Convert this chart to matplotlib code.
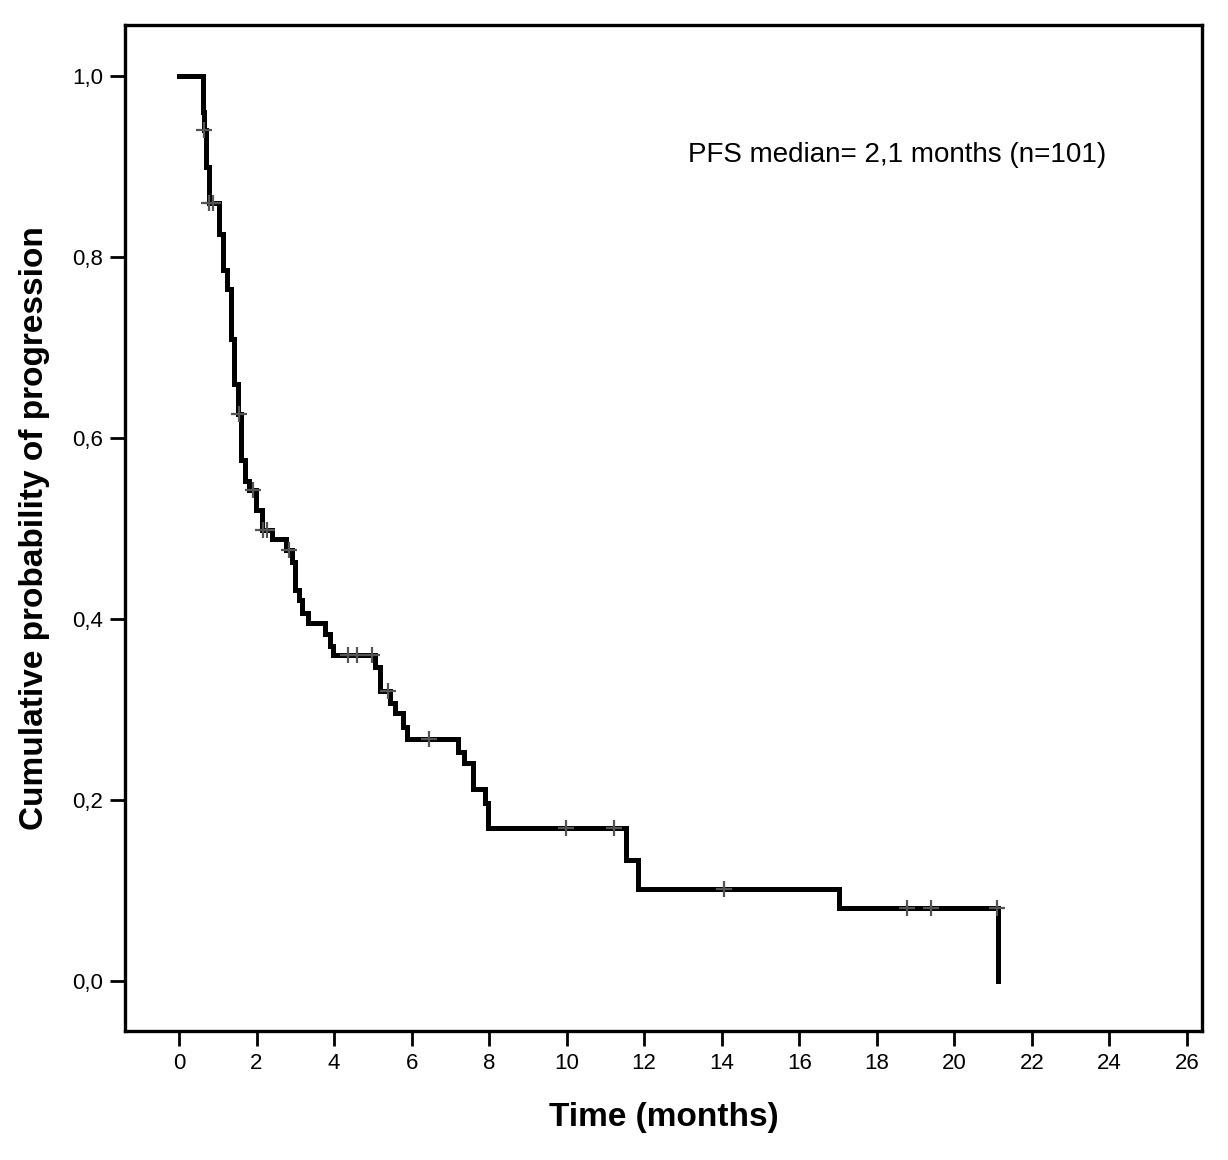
import numpy as np
import matplotlib.pyplot as plt
from matplotlib.ticker import FuncFormatter

plt.rcParams['font.family'] = ['Liberation Sans', 'DejaVu Sans']

# Kaplan-Meier steps (time in months, cumulative probability)
event_times = [0, 0.61, 0.64, 0.70, 0.77, 1.03, 1.13, 1.24, 1.34, 1.42, 1.52,
               1.60, 1.70, 1.81, 1.99, 2.14, 2.40, 2.76, 2.91, 2.99, 3.10,
               3.17, 3.33, 3.77, 3.89, 3.97, 5.06, 5.18, 5.44, 5.57, 5.78,
               5.88, 7.20, 7.35, 7.58, 7.89, 7.97, 11.53, 11.84, 17.02, 21.12]
survival = [1.0, 0.96, 0.94, 0.90, 0.86, 0.826, 0.786, 0.765, 0.71, 0.66, 0.627,
            0.576, 0.553, 0.543, 0.52, 0.498, 0.489, 0.476, 0.463, 0.432, 0.421,
            0.407, 0.396, 0.383, 0.37, 0.36, 0.347, 0.32, 0.307, 0.296, 0.281,
            0.268, 0.253, 0.241, 0.212, 0.197, 0.169, 0.134, 0.102, 0.0807, 0.0]

# censored observations
censor_times = [0.65, 0.78, 0.88, 1.55, 1.91, 2.17, 2.27, 2.84, 4.36, 4.59,
                4.99, 5.39, 6.45, 9.98, 11.22, 14.06, 18.78, 19.40, 21.11]

x_ticks = np.arange(0, 27, 2)
y_ticks = [0.0, 0.2, 0.4, 0.6, 0.8, 1.0]

t = np.array(event_times)
s = np.array(survival)
idx = np.searchsorted(t, censor_times, side='right') - 1
censor_y = s[idx]

fig = plt.figure(figsize=(12.28, 11.6), dpi=100)
ax = fig.add_axes([0.1018, 0.1112, 0.877, 0.8672])

ax.plot(t, s, drawstyle='steps-post', color='black', lw=3.6,
        solid_joinstyle='miter')
ax.plot(censor_times, censor_y, '+', color='#555555', ms=11, mew=1.6)

ax.set_xlim(-1.393, 26.39)
ax.set_ylim(-0.0552, 1.0564)
ax.set_xticks(x_ticks)
ax.set_yticks(y_ticks)
ax.yaxis.set_major_formatter(FuncFormatter(lambda v, p: f'{v:.1f}'.replace('.', ',')))

for sp in ax.spines.values():
    sp.set_linewidth(2.4)
ax.tick_params(direction='out', length=11, width=2, labelsize=16, pad=5)

ax.set_xlabel('Time (months)', fontsize=24, fontweight='bold', labelpad=20)
ax.set_ylabel('Cumulative probability of progression', fontsize=24,
              fontweight='bold', labelpad=16)

ax.text(13.13, 0.913, 'PFS median= 2,1 months (n=101)', fontsize=20,
        va='center', ha='left')

fig.savefig('out.png', dpi=100)
